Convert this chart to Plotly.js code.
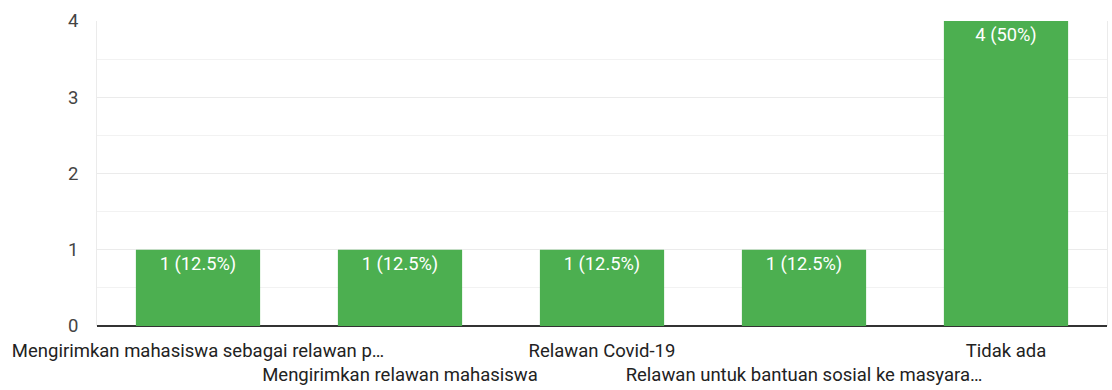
<!DOCTYPE html>
<html>
<head>
<meta charset="utf-8">
<script src="https://cdn.plot.ly/plotly-3.0.1.min.js"></script>
<style>html,body{margin:0;padding:0;background:#fff;}#chart{width:1112px;height:390px;}</style>
</head>
<body>
<div id="chart"></div>
<script>
const categories = [
  "Mengirimkan mahasiswa sebagai relawan p…",
  "Mengirimkan relawan mahasiswa",
  "Relawan Covid-19",
  "Relawan untuk bantuan sosial ke masyara…",
  "Tidak ada"
];
const counts = [1, 1, 1, 1, 4];
const percents = ["12.5%", "12.5%", "12.5%", "12.5%", "50%"];
const yTicks = [0, 1, 2, 3, 4];

const barText = counts.map((c, i) => c + " (" + percents[i] + ")");
const tickText = categories.map((c, i) => (i % 2 === 1 ? "<br>" + c : c));

const trace = {
  type: "bar",
  x: categories,
  y: counts,
  text: barText,
  textposition: "inside",
  insidetextanchor: "end",
  constraintext: "none",
  textangle: 0,
  textfont: {family: "Roboto, Arial, sans-serif", size: 18.3, color: "#ffffff"},
  marker: {color: "#4caf50"},
  width: 0.615,
  hoverinfo: "none"
};

const layout = {
  width: 1112,
  height: 390,
  margin: {l: 97, r: 5, t: 21, b: 64},
  paper_bgcolor: "#ffffff",
  plot_bgcolor: "#ffffff",
  showlegend: false,
  font: {family: "Roboto, Arial, sans-serif", size: 18.5, color: "#222"},
  xaxis: {
    type: "category",
    tickmode: "array",
    tickvals: categories,
    ticktext: tickText,
    tickangle: 0,
    ticks: "outside",
    ticklen: 8,
    tickcolor: "rgba(0,0,0,0)",
    showgrid: false,
    showline: false,
    zeroline: false,
    tickfont: {family: "Roboto, Arial, sans-serif", size: 18.5, color: "#222"},
    automargin: false
  },
  yaxis: {
    range: [0, 4],
    tickmode: "array",
    tickvals: yTicks,
    ticktext: yTicks.map(String),
    ticks: "outside",
    ticklen: 14,
    tickcolor: "rgba(0,0,0,0)",
    showgrid: true,
    gridcolor: "#ebebeb",
    gridwidth: 1,
    minor: {dtick: 0.5, showgrid: true, gridcolor: "#f2f2f2", gridwidth: 1},
    zeroline: true,
    zerolinecolor: "#333333",
    zerolinewidth: 2,
    showline: true,
    mirror: true,
    linecolor: "#ebebeb",
    linewidth: 1,
    tickfont: {family: "Roboto, Arial, sans-serif", size: 18.5, color: "#444"},
    fixedrange: true,
    automargin: false
  }
};

Plotly.newPlot("chart", [trace], layout, {displayModeBar: false, staticPlot: true});
</script>
</body>
</html>
